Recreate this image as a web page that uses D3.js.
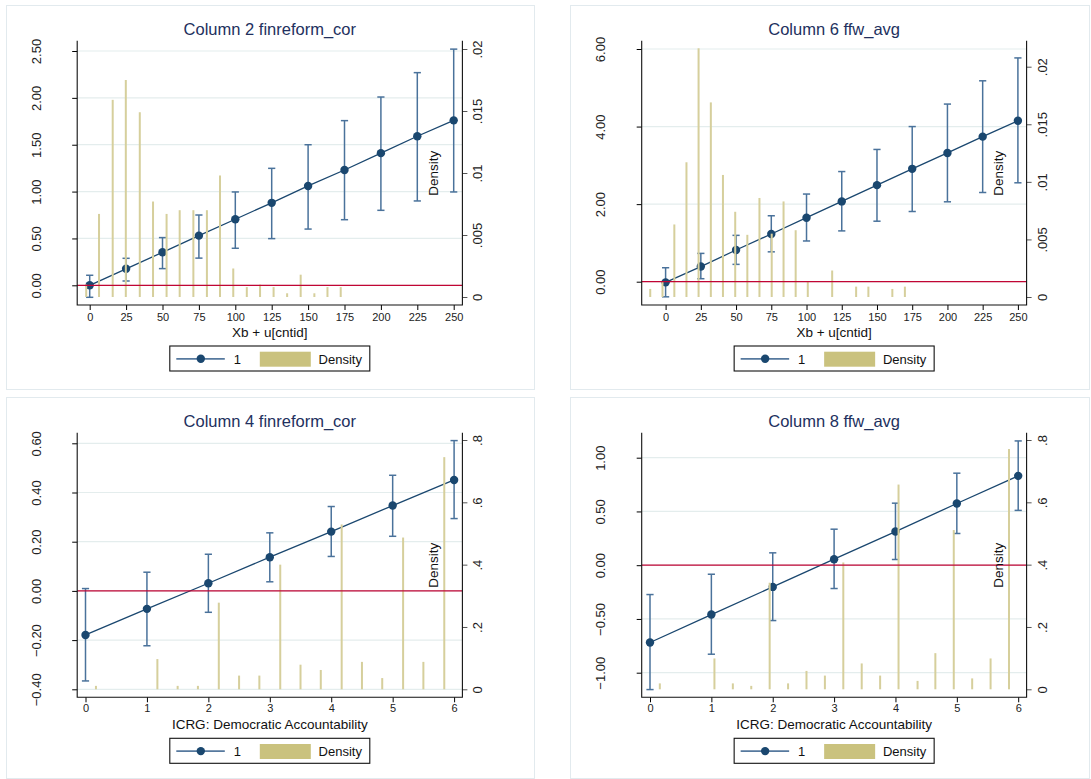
<!DOCTYPE html>
<html>
<head>
<meta charset="utf-8">
<script src="https://cdnjs.cloudflare.com/ajax/libs/d3/7.8.5/d3.min.js"></script>
<style>
  body { margin: 0; background: #fff; }
  svg { display: block; font-family: "Liberation Sans", Arial, sans-serif; }
</style>
</head>
<body>
<svg id="chart" width="1091" height="779"></svg>
<script>

// margin points
var margX250 = [0, 25, 50, 75, 100, 125, 150, 175, 200, 225, 250];
var margX6 = [0, 1, 2, 3, 4, 5, 6];

// Column 2 finreform_cor
var c2Est = [0, 0.176, 0.352, 0.53, 0.705, 0.88, 1.06, 1.23, 1.41, 1.59, 1.76];
var c2Lo = [-0.128, 0.046, 0.178, 0.29, 0.395, 0.498, 0.60, 0.70, 0.80, 0.90, 0.996];
var c2Hi = [0.107, 0.288, 0.509, 0.75, 0.996, 1.248, 1.50, 1.757, 2.009, 2.269, 2.52];
var c2BinX = [-2.4, 6.4, 15.8, 24.8, 34.4, 43.5, 52.8, 61.8, 71.2, 80.5, 89.5, 98.6, 107.9, 117, 126.3, 135.6, 144.9, 154.3, 163.3, 172.4];
var c2Dens = [0.001, 0.0067, 0.0159, 0.0175, 0.0149, 0.0077, 0.0067, 0.0070, 0.0070, 0.0070, 0.0098, 0.0023, 0.0008, 0.0010, 0.0008, 0.0003, 0.0018, 0.0003, 0.0008, 0.0008];

// Column 6 ffw_avg
var c6Est = [-0.017, 0.39, 0.817, 1.23, 1.65, 2.07, 2.49, 2.91, 3.32, 3.74, 4.15];
var c6Lo = [-0.39, 0.077, 0.447, 0.77, 1.05, 1.31, 1.56, 1.81, 2.06, 2.30, 2.55];
var c6Hi = [0.36, 0.73, 1.195, 1.70, 2.26, 2.84, 3.41, 4.00, 4.58, 5.18, 5.77];
var c6BinX = [-10.9, -2.2, 6.2, 14.8, 23.4, 32.1, 40.7, 49.4, 58.0, 66.6, 75.3, 83.7, 92.3, 100.9, 118.2, 135.2, 143.9, 160.9, 169.8];
var c6Dens = [0.0007, 0.0013, 0.0063, 0.0117, 0.0216, 0.0169, 0.0106, 0.0074, 0.0054, 0.0086, 0.0055, 0.0083, 0.0058, 0.0013, 0.0023, 0.0009, 0.0009, 0.0007, 0.0009];

// Column 4 finreform_cor
var c4Est = [-0.179, -0.073, 0.031, 0.137, 0.241, 0.347, 0.451];
var c4Lo = [-0.366, -0.223, -0.087, 0.037, 0.140, 0.222, 0.294];
var c4Hi = [0.0095, 0.076, 0.149, 0.236, 0.343, 0.470, 0.611];
var c4BinX = [0.17, 1.17, 1.50, 1.83, 2.17, 2.50, 2.83, 3.17, 3.50, 3.83, 4.17, 4.50, 4.83, 5.17, 5.50, 5.84];
var c4Dens = [0.011, 0.097, 0.011, 0.011, 0.278, 0.044, 0.044, 0.40, 0.079, 0.062, 0.529, 0.088, 0.036, 0.487, 0.088, 0.745];

// Column 8 ffw_avg
var c8Est = [-0.719, -0.459, -0.202, 0.056, 0.313, 0.574, 0.831];
var c8Lo = [-1.157, -0.828, -0.515, -0.217, 0.053, 0.295, 0.51];
var c8Hi = [-0.273, -0.084, 0.115, 0.335, 0.577, 0.856, 1.156];
var c8BinX = [0.16, 1.05, 1.35, 1.65, 1.95, 2.25, 2.55, 2.85, 3.15, 3.45, 3.75, 4.05, 4.36, 4.65, 4.95, 5.25, 5.55, 5.85];
var c8Dens = [0.019, 0.099, 0.019, 0.011, 0.342, 0.019, 0.059, 0.044, 0.407, 0.083, 0.044, 0.657, 0.027, 0.116, 0.511, 0.035, 0.099, 0.771];

// ticks
var c2LeftTicks = [0, 0.5, 1, 1.5, 2, 2.5];
var c6LeftTicks = [0, 2, 4, 6];
var c4LeftTicks = [-0.4, -0.2, 0, 0.2, 0.4, 0.6];
var c8LeftTicks = [-1, -0.5, 0, 0.5, 1];
var densTicksA = [0, 0.005, 0.01, 0.015, 0.02];
var densLabelsA = ["0", ".005", ".01", ".015", ".02"];
var densTicksB = [0, 0.2, 0.4, 0.6, 0.8];
var densLabelsB = ["0", ".2", ".4", ".6", ".8"];

var navy = "#1a476f", ciCol = "#4a729b", khaki = "#cac27e", barCol = "#d6cf9c",
    zeroCol = "#c10534", gridCol = "#e4eded", titleCol = "#22305e";

var svg = d3.select("#chart");

function drawPanel(p) {
    var g = svg.append("g");
    // outer box
    g.append("rect").attr("x", p.box[0] + 0.5).attr("y", p.box[1] + 0.5)
        .attr("width", p.box[2] - p.box[0]).attr("height", p.box[3] - p.box[1])
        .attr("fill", "#fff").attr("stroke", "#e2eaee");

    var x = d3.scaleLinear().domain(p.xd).range(p.xr);
    var yL = d3.scaleLinear().domain(p.yLd).range(p.yLr);
    var yR = d3.scaleLinear().domain(p.yRd).range(p.yRr);
    var cx = (p.left + p.right) / 2;

    // gridlines
    g.selectAll(".grid").data(p.leftTicks).enter().append("line")
        .attr("x1", p.left).attr("x2", p.right)
        .attr("y1", function(d) { return yL(d); }).attr("y2", function(d) { return yL(d); })
        .attr("stroke", gridCol).attr("stroke-width", 1.2);

    // confidence intervals
    var ci = g.selectAll(".ci").data(p.xs).enter().append("g");
    ci.append("line").attr("x1", function(d) { return x(d); }).attr("x2", function(d) { return x(d); })
        .attr("y1", function(d, i) { return yL(p.lo[i]); }).attr("y2", function(d, i) { return yL(p.hi[i]); })
        .attr("stroke", ciCol).attr("stroke-width", 1.5);
    [p.lo, p.hi].forEach(function(arr) {
        ci.append("line").attr("x1", function(d) { return x(d) - 3.6; }).attr("x2", function(d) { return x(d) + 3.6; })
            .attr("y1", function(d, i) { return yL(arr[i]); }).attr("y2", function(d, i) { return yL(arr[i]); })
            .attr("stroke", ciCol).attr("stroke-width", 1.5);
    });

    // connected line + markers
    var line = d3.line().x(function(d) { return x(d); }).y(function(d, i) { return yL(p.est[i]); });
    g.append("path").datum(p.xs).attr("d", line).attr("fill", "none")
        .attr("stroke", navy).attr("stroke-width", 1.3);
    g.selectAll(".pt").data(p.xs).enter().append("circle")
        .attr("cx", function(d) { return x(d); }).attr("cy", function(d, i) { return yL(p.est[i]); })
        .attr("r", 4.2).attr("fill", navy);

    // density bars
    g.selectAll(".bar").data(p.binX).enter().append("rect")
        .attr("x", function(d) { return x(d) - 1; }).attr("width", 2)
        .attr("y", function(d, i) { return yR(p.dens[i]); })
        .attr("height", function(d, i) { return yR(0) - yR(p.dens[i]); })
        .attr("fill", barCol);

    // zero line
    g.append("line").attr("x1", p.left).attr("x2", p.right)
        .attr("y1", yL(0)).attr("y2", yL(0))
        .attr("stroke", zeroCol).attr("stroke-width", 1.3);

    // axes
    var xAxis = d3.axisBottom(x).tickValues(p.xs).tickFormat(d3.format("d")).tickSize(5).tickSizeOuter(0);
    var gx = g.append("g").attr("transform", "translate(0," + p.bottom + ")").call(xAxis);
    gx.select(".domain").remove();
    gx.selectAll("text").attr("y", p.xTickDy).attr("dy", 0).attr("font-size", 11)
        .attr("font-family", null).attr("fill", "#222");

    var lAxis = d3.axisLeft(yL).tickValues(p.leftTicks).tickFormat(d3.format(".2f")).tickSize(5).tickSizeOuter(0);
    var gl = g.append("g").attr("transform", "translate(" + p.left + ",0)").call(lAxis);
    gl.select(".domain").remove();
    gl.selectAll("text").attr("x", 0).attr("y", -p.leftGap).attr("dy", 0)
        .attr("transform", "rotate(-90)").attr("text-anchor", "middle")
        .attr("dominant-baseline", "central").attr("font-size", 13)
        .attr("font-family", null).attr("fill", "#222");

    var rAxis = d3.axisRight(yR).tickValues(p.rightTicks)
        .tickFormat(function(d, i) { return p.rightLabels[i]; }).tickSize(5).tickSizeOuter(0);
    var gr = g.append("g").attr("transform", "translate(" + p.right + ",0)").call(rAxis);
    gr.select(".domain").remove();
    gr.selectAll("line").attr("stroke", "#555");
    gr.selectAll("text").attr("x", 0).attr("y", 15.5).attr("dy", 0)
        .attr("transform", "rotate(-90)").attr("text-anchor", "middle")
        .attr("dominant-baseline", "central").attr("font-size", 13)
        .attr("font-family", null).attr("fill", "#222");

    // plot region frame (left, bottom, right)
    g.append("path")
        .attr("d", "M" + p.left + "," + p.top + "V" + p.bottom + "H" + p.right + "V" + p.top)
        .attr("fill", "none").attr("stroke", "#111").attr("stroke-width", 1.1);

    // titles
    g.append("text").attr("x", cx).attr("y", p.top - 5.5).attr("text-anchor", "middle")
        .attr("font-size", 16.5).attr("fill", titleCol).text(p.title);
    g.append("text").attr("x", cx).attr("y", p.bottom + 31.5).attr("text-anchor", "middle")
        .attr("font-size", 13.5).attr("fill", "#111").text(p.xTitle);
    g.append("text").attr("transform", "translate(" + (p.right - 28.5) + "," + (p.top + 132.5) + ") rotate(-90)")
        .attr("text-anchor", "middle").attr("dominant-baseline", "central")
        .attr("font-size", 13.5).attr("fill", "#111").text("Density");

    // legend
    var lx = cx - 100, ly = p.bottom + 41;
    var lg = g.append("g").attr("transform", "translate(" + lx + "," + ly + ")");
    lg.append("rect").attr("x", 0).attr("y", 0).attr("width", 200).attr("height", 25)
        .attr("fill", "#fff").attr("stroke", "#111").attr("stroke-width", 1.1);
    lg.append("line").attr("x1", 6.5).attr("x2", 55).attr("y1", 12.8).attr("y2", 12.8)
        .attr("stroke", "#56799e").attr("stroke-width", 1.8);
    lg.append("circle").attr("cx", 31).attr("cy", 12.8).attr("r", 4.2).attr("fill", navy);
    lg.append("text").attr("x", 67.5).attr("y", 17.5).attr("text-anchor", "middle")
        .attr("font-size", 13).attr("fill", "#111").text("1");
    lg.append("rect").attr("x", 90).attr("y", 5.7).attr("width", 51).attr("height", 15).attr("fill", khaki);
    lg.append("text").attr("x", 148.8).attr("y", 17.5)
        .attr("font-size", 13).attr("fill", "#111").text("Density");
}

var panels = [
    { title: "Column 2 finreform_cor", xTitle: "Xb + u[cntid]",
      box: [6, 5, 534, 389], left: 77.2, right: 462.4, top: 40.7, bottom: 305,
      xd: [0, 250], xr: [89.7, 453.7], yLd: [0, 2.5], yLr: [285.3, 51], yRd: [0, 0.02], yRr: [297, 49],
      xs: margX250, est: c2Est, lo: c2Lo, hi: c2Hi, binX: c2BinX, dens: c2Dens,
      leftTicks: c2LeftTicks, rightTicks: densTicksA, rightLabels: densLabelsA, leftGap: 40.7, xTickDy: 15.5 },
    { title: "Column 6 ffw_avg", xTitle: "Xb + u[cntid]",
      box: [570, 5, 1089, 389], left: 641.7, right: 1026.6, top: 40.7, bottom: 305,
      xd: [0, 250], xr: [665.6, 1017.9], yLd: [0, 6], yLr: [281.7, 49], yRd: [0, 0.02], yRr: [297, 66.7],
      xs: margX250, est: c6Est, lo: c6Lo, hi: c6Hi, binX: c6BinX, dens: c6Dens,
      leftTicks: c6LeftTicks, rightTicks: densTicksA, rightLabels: densLabelsA, leftGap: 41.1, xTickDy: 15.5 },
    { title: "Column 4 finreform_cor", xTitle: "ICRG: Democratic Accountability",
      box: [6, 397, 534, 778], left: 77.2, right: 462.4, top: 432.7, bottom: 697.3,
      xd: [0, 6], xr: [85.5, 454.1], yLd: [-0.4, 0.6], yLr: [689.3, 443.3], yRd: [0, 0.8], yRr: [689.3, 440],
      xs: margX6, est: c4Est, lo: c4Lo, hi: c4Hi, binX: c4BinX, dens: c4Dens,
      leftTicks: c4LeftTicks, rightTicks: densTicksB, rightLabels: densLabelsB, leftGap: 40.7, xTickDy: 14.5 },
    { title: "Column 8 ffw_avg", xTitle: "ICRG: Democratic Accountability",
      box: [570, 397, 1089, 778], left: 641.7, right: 1026.6, top: 432.7, bottom: 697.3,
      xd: [0, 6], xr: [650, 1018.2], yLd: [-1, 1], yLr: [672.7, 457.7], yRd: [0, 0.8], yRr: [689.3, 440],
      xs: margX6, est: c8Est, lo: c8Lo, hi: c8Hi, binX: c8BinX, dens: c8Dens,
      leftTicks: c8LeftTicks, rightTicks: densTicksB, rightLabels: densLabelsB, leftGap: 41.1, xTickDy: 14.5 }
];

panels.forEach(drawPanel);

</script>
</body>
</html>
